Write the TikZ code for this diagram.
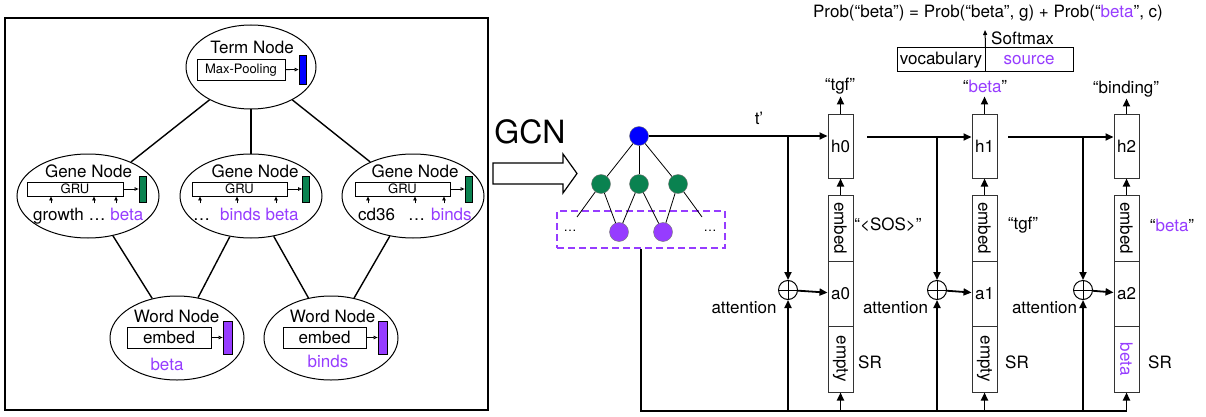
\documentclass[tikz,border=0pt]{standalone}
\usepackage{fontspec}
\setmainfont{TeX Gyre Heros}
\usetikzlibrary{arrows.meta,shapes.geometric}
\definecolor{gblue}{RGB}{0,0,255}
\definecolor{ggreen}{RGB}{10,130,80}
\definecolor{gpurple}{RGB}{150,60,255}
\begin{document}
\begin{tikzpicture}[x=1pt,y=-1pt,
  txt/.style={font=\fontsize{17}{20}\selectfont, inner sep=0pt},
  smalltxt/.style={font=\fontsize{13}{15}\selectfont, inner sep=0pt},
  ell/.style={draw, ellipse, line width=1pt, inner sep=0pt},
  lbox/.style={draw, line width=0.9pt, inner sep=0pt},
  vec/.style={draw, line width=0.8pt, inner sep=0pt, minimum width=7pt},
  link/.style={line width=1.4pt},
  opentip/.style={line width=0.8pt, -{Triangle[open,length=4pt,width=3.5pt]}},
  uptip/.style={line width=0.8pt, -{Triangle[length=4pt,width=3.5pt]}},
  dot/.style={circle, draw=black!55, line width=0.4pt, minimum size=19pt, inner sep=0pt},
  treeline/.style={line width=0.8pt},
  cell/.style={draw=black!80, line width=1pt, inner sep=0pt, minimum width=25pt, font=\fontsize{17}{20}\selectfont},
  bigarr/.style={line width=1.8pt, -{Triangle[length=8pt,width=7pt]}},
  oplus/.style={draw, circle, minimum size=19pt, inner sep=0pt, line width=1pt,
    path picture={\draw[line width=1pt] (path picture bounding box.north) -- (path picture bounding box.south)
      (path picture bounding box.west) -- (path picture bounding box.east);}}
]
\useasboundingbox (0,0) rectangle (1206,417);

% ---------------- left panel ----------------
\draw[line width=1.3pt] (5,18) rectangle (488,410);

% term node
\node[ell, minimum width=130pt, minimum height=84pt] (term) at (251,67) {};
\node[txt] (termlbl) at (252,47) {Term Node};
\node[lbox, smalltxt, minimum width=88pt, minimum height=21pt] (mp) at (241,70) {Max-Pooling};
\node[vec, fill=gblue, minimum height=29pt] (tvec) at (302.5,69.5) {};
\draw[opentip] (mp) -- (tvec);

% gene nodes
\node[ell, minimum width=142pt, minimum height=84pt] (g1) at (88,196) {};
\node[ell, minimum width=142pt, minimum height=84pt] (g2) at (251,196) {};
\node[ell, minimum width=142pt, minimum height=84pt] (g3) at (413,196) {};
\node[txt] (g1lbl) at (88.5,171) {Gene Node};
\node[txt] (g2lbl) at (255,171) {Gene Node};
\node[txt] (g3lbl) at (415,171) {Gene Node};
\node[lbox, smalltxt, minimum width=96pt, minimum height=14pt] (gru1) at (75,189) {GRU};
\node[lbox, smalltxt, minimum width=95pt, minimum height=14pt] (gru2) at (239.5,189) {GRU};
\node[lbox, smalltxt, minimum width=95pt, minimum height=14pt] (gru3) at (402.5,189) {GRU};
\node[vec, fill=ggreen, minimum height=26pt] (gv1) at (142.5,189) {};
\node[vec, fill=ggreen, minimum height=26pt] (gv2) at (306,189) {};
\node[vec, fill=ggreen, minimum height=26pt] (gv3) at (468.5,189) {};
\draw[opentip] (gru1) -- (gv1);
\draw[opentip] (gru2) -- (gv2);
\draw[opentip] (gru3) -- (gv3);
\foreach \g/\dx in {gru1/-24,gru1/19,gru1/41,gru2/-39.5,gru2/-2.5,gru2/36.5,gru3/-34.5,gru3/12.5,gru3/41.5}{
  \draw[uptip] ([xshift=\dx pt,yshift=-7pt]\g.south) -- ([xshift=\dx pt]\g.south);
}
\node[txt, anchor=base west] (w1) at (33,220) {growth … \textcolor{gpurple}{beta}};
\node[txt, anchor=base west] (w2) at (193,220) {…\hspace{10pt}\textcolor{gpurple}{binds beta}};
\node[txt, anchor=base west] (w3) at (358,220) {cd36\hspace{13pt}…\hspace{6pt}\textcolor{gpurple}{binds}};

% word nodes
\node[ell, minimum width=134pt, minimum height=84pt] (wn1) at (177,338) {};
\node[ell, minimum width=134pt, minimum height=84pt] (wn2) at (331,338) {};
\node[txt] (wn1lbl) at (176.5,316) {Word Node};
\node[txt] (wn2lbl) at (332.5,316) {Word Node};
\node[lbox, txt, minimum width=84pt, minimum height=21pt] (emb1) at (169,337.5) {embed};
\node[lbox, txt, minimum width=83pt, minimum height=21pt] (emb2) at (324.5,337.5) {embed};
\node[vec, fill=gpurple, minimum width=9pt, minimum height=33pt] (pv1) at (227.5,337.5) {};
\node[vec, fill=gpurple, minimum width=9pt, minimum height=33pt] (pv2) at (382.5,337.5) {};
\draw[opentip] (emb1) -- (pv1);
\draw[opentip] (emb2) -- (pv2);
\node[txt, text=gpurple] (wb1) at (167,364) {beta};
\node[txt, text=gpurple] (wb2) at (328,361) {binds};

% graph edges
\draw[link] (term) -- (g1);
\draw[link] (term) -- (g2);
\draw[link] (term) -- (g3);
\draw[link] (g1) -- (wn1);
\draw[link] (g2) -- (wn1);
\draw[link] (g2) -- (wn2);
\draw[link] (g3) -- (wn2);

% ---------------- GCN arrow ----------------
\node[font=\fontsize{32}{36}\selectfont, inner sep=0pt] (gcn) at (530,132) {GCN};
\draw[line width=1.2pt] (493,163) -- (563,163) -- (563,154) -- (577,173.5) -- (563,193) -- (563,184) -- (493,184) -- cycle;

% ---------------- tree ----------------
\node[draw=gpurple, dash pattern=on 7pt off 4pt, line width=1.2pt, minimum width=168pt, minimum height=37pt, inner sep=0pt] (dash) at (641,229.5) {};
\node[dot, fill=gblue] (tb) at (639,136) {};
\node[dot, fill=ggreen] (gl) at (601,184) {};
\node[dot, fill=ggreen] (gm) at (639,184) {};
\node[dot, fill=ggreen] (gr) at (678,184) {};
\node[dot, fill=gpurple] (pl) at (619,232) {};
\node[dot, fill=gpurple] (pr) at (663,232) {};
\node[smalltxt] (dl) at (570,231) {…};
\node[smalltxt] (dr) at (710,231) {…};
\coordinate (fl) at (577,217);
\coordinate (fr) at (702,217);
\draw[treeline] (tb) -- (gl);
\draw[treeline] (tb) -- (gm);
\draw[treeline] (tb) -- (gr);
\draw[treeline] (gl) -- (fl);
\draw[treeline] (gl) -- (pl);
\draw[treeline] (gm) -- (pl);
\draw[treeline] (gm) -- (pr);
\draw[treeline] (gr) -- (pr);
\draw[treeline] (gr) -- (fr);

% ---------------- decoder ----------------
\foreach \i/\x in {0/840.5,1/984.5,2/1126.5}{
  \node[cell, minimum height=63pt] (h\i) at (\x,146.5) {h\i};
  \node[cell, minimum height=66pt] (e\i) at (\x,228) {\rotatebox{-90}{embed}};
  \node[cell, minimum height=65pt] (a\i) at (\x,293.5) {a\i};
  \draw[bigarr] (e\i) -- (h\i);
}
\node[cell, minimum height=66pt] (sr0) at (840.5,359) {\rotatebox{-90}{empty}};
\node[cell, minimum height=66pt] (sr1) at (984.5,359) {\rotatebox{-90}{empty}};
\node[cell, minimum height=66pt] (sr2) at (1126.5,359) {\rotatebox{-90}{\textcolor{gpurple}{beta}}};

\node[txt] (o0) at (840,86) {“tgf”};
\node[txt] (o1) at (985,86) {“\textcolor{gpurple}{beta}”};
\node[txt] (o2) at (1126,89) {“binding”};
\draw[bigarr] (h0.north) -- ([yshift=18pt]h0.north);
\draw[bigarr] (h1.north) -- ([yshift=18pt]h1.north);
\draw[bigarr] (h2.north) -- ([yshift=16pt]h2.north);

\node[txt] (in0) at (888,225) {“\textless SOS\textgreater”};
\node[txt] (in1) at (1023,225) {“tgf”};
\node[txt] (in2) at (1172,225) {“\textcolor{gpurple}{beta}”};
\node[txt] (sl0) at (870,362) {SR};
\node[txt] (sl1) at (1017,362) {SR};
\node[txt] (sl2) at (1160,362) {SR};

\node[oplus] (p0) at (788,290) {};
\node[oplus] (p1) at (937,290) {};
\node[oplus] (p2) at (1083,290) {};
\node[txt] (at0) at (744,308) {attention};
\node[txt] (at1) at (895.5,308) {attention};
\node[txt] (at2) at (1044.5,308) {attention};
\node[txt] (tp) at (759,118) {t’};

% horizontal state arrows
\draw[bigarr] (tb) -- (tb -| h0.west);
\coordinate (s1) at (867,137);
\coordinate (s2) at (1008,137);
\draw[bigarr] (s1) -- (s1 -| h1.west);
\draw[bigarr] (s2) -- (s2 -| h2.west);
% down to oplus
\draw[bigarr] (p0 |- tb) -- (p0.north);
\draw[bigarr] (p1 |- s1) -- (p1.north);
\draw[bigarr] (p2 |- s2) -- (p2.north);
\draw[bigarr] (p0) -- (a0);
\draw[bigarr] (p1) -- (a1);
\draw[bigarr] (p2) -- (a2);
% bottom memory line
\coordinate (bl) at (641,411);
\draw[bigarr] (dash.south) -- (bl) -- (bl -| sr2) -- (sr2.south);
\draw[bigarr] (p0 |- bl) -- (p0.south);
\draw[bigarr] (p1 |- bl) -- (p1.south);
\draw[bigarr] (p2 |- bl) -- (p2.south);
\draw[bigarr] (sr0 |- bl) -- (sr0.south);
\draw[bigarr] (sr1 |- bl) -- (sr1.south);

% top softmax
\node[draw, line width=1pt, txt, minimum width=88pt, minimum height=24pt] (voc) at (941,60) {vocabulary};
\node[draw, line width=1pt, txt, minimum width=88pt, minimum height=24pt, text=gpurple] (src) at (1029,60) {source};
\coordinate (sm) at (985,30);
\draw[line width=1pt, -{Triangle[length=5pt,width=4pt]}] (voc.north east) -- (sm);
\node[txt, anchor=west] (smx) at (991,38) {Softmax};
\node[txt] (prob) at (988,13) {Prob(“beta”) = Prob(“beta”, g) + Prob(“\textcolor{gpurple}{beta}”, c)};
\end{tikzpicture}
\end{document}
